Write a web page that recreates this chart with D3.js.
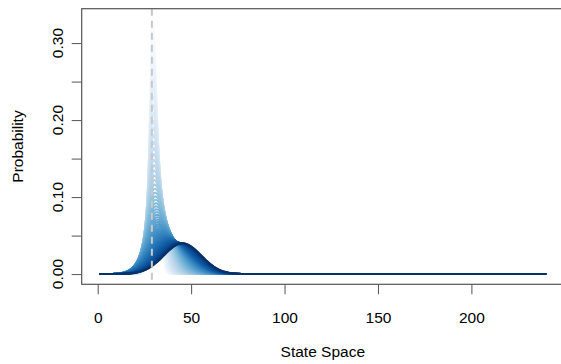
<!DOCTYPE html>
<html>
<head>
<meta charset="utf-8">
<script src="https://cdn.jsdelivr.net/npm/d3@7"></script>
<style>
  body { margin: 0; background: #fff; }
  text { font-family: 'Liberation Sans', Arial, sans-serif; fill: #000; }
</style>
</head>
<body>
<div id="chart"></div>
<script>
// state space 1..240, initial state marked by the dashed line
const stateMin = 1
const stateMax = 240
const startState = 29

// each distribution: peak location, peak height, spread left / right of the peak
// ordered from the first (lightest) to the last (darkest)
const peakState = [
  29.42, 29.44, 29.45, 29.47, 29.49, 29.51, 29.53, 29.55, 29.58, 29.61,
  29.64, 29.68, 29.72, 29.76, 29.81, 29.86, 29.92, 29.99, 30.06, 30.14,
  30.23, 30.33, 30.43, 30.55, 30.68, 30.82, 30.97, 31.14, 31.33, 31.53,
  31.75, 31.99, 32.26, 32.54, 32.85, 33.19, 33.55, 33.93, 34.35, 34.79,
  35.27, 35.77, 36.29, 36.85, 37.43, 38.02, 38.64, 39.27, 39.90, 40.54,
  41.17, 41.79, 42.39, 42.96, 43.50, 43.99, 44.44, 44.83, 45.17, 45.46
]
const peakHeight = [
  0.3314, 0.3151, 0.2995, 0.2846, 0.2707, 0.2574, 0.2447, 0.2327, 0.2213, 0.2105,
  0.2003, 0.1905, 0.1812, 0.1725, 0.1641, 0.1562, 0.1487, 0.1416, 0.1349, 0.1284,
  0.1224, 0.1166, 0.1112, 0.1060, 0.1012, 0.0966, 0.0922, 0.0881, 0.0842, 0.0805,
  0.0771, 0.0739, 0.0708, 0.0679, 0.0652, 0.0627, 0.0603, 0.0581, 0.0561, 0.0542,
  0.0524, 0.0508, 0.0493, 0.0480, 0.0468, 0.0457, 0.0447, 0.0438, 0.0431, 0.0424,
  0.0418, 0.0414, 0.0410, 0.0407, 0.0404, 0.0403, 0.0401, 0.0400, 0.0400, 0.0399
]
const leftSpread = [
  1.57, 1.65, 1.73, 1.82, 1.90, 2.00, 2.10, 2.21, 2.31, 2.43,
  2.55, 2.66, 2.80, 2.91, 3.06, 3.19, 3.35, 3.49, 3.67, 3.82,
  4.01, 4.17, 4.38, 4.55, 4.77, 4.96, 5.19, 5.39, 5.59, 5.84,
  6.05, 6.27, 6.54, 6.76, 6.97, 7.25, 7.47, 7.69, 7.89, 8.17,
  8.37, 8.56, 8.73, 8.98, 9.13, 9.26, 9.37, 9.47, 9.64, 9.69,
  9.73, 9.83, 9.83, 9.90, 9.86, 9.91, 9.94, 9.96, 9.98, 9.99
]
const rightSpread = [
  2.41, 2.53, 2.66, 2.80, 2.95, 3.10, 3.26, 3.43, 3.61, 3.79,
  3.88, 4.06, 4.25, 4.44, 4.64, 4.85, 5.07, 5.30, 5.53, 5.78,
  6.00, 6.22, 6.46, 6.70, 6.94, 7.19, 7.44, 7.70, 7.96, 8.22,
  8.49, 8.70, 8.90, 9.10, 9.30, 9.48, 9.65, 9.81, 9.96, 10.08,
  10.19, 10.28, 10.35, 10.39, 10.41, 10.39, 10.36, 10.29, 10.19, 10.16,
  10.11, 10.12, 10.12, 10.10, 10.06, 10.01, 10.04, 9.96, 9.98, 9.99
]

const xTicks = [0, 50, 100, 150, 200]
const yTicks = [0, 0.05, 0.10, 0.15, 0.20, 0.25, 0.30]
const yLabels = [0, 0.10, 0.20, 0.30]

const width = 561
const height = 364
const plot = { left: 81.7, right: 564, top: 8.7, bottom: 284.3 }

const svg = d3.select('#chart')
  .append('svg')
  .attr('width', width)
  .attr('height', height)

svg.append('rect')
  .attr('width', width)
  .attr('height', height)
  .attr('fill', '#fff')

// R style 4% padding on both axes
const xPad = (stateMax - stateMin) * 0.04
const x = d3.scaleLinear()
  .domain([stateMin - xPad, stateMax + xPad])
  .range([plot.left, plot.right])

const yMax = d3.max(peakHeight)
const y = d3.scaleLinear()
  .domain([-yMax * 0.04, yMax * 1.04])
  .range([plot.bottom, plot.top])

svg.append('clipPath')
  .attr('id', 'clip')
  .append('rect')
  .attr('x', plot.left)
  .attr('y', plot.top)
  .attr('width', plot.right - plot.left)
  .attr('height', plot.bottom - plot.top)

const states = d3.range(stateMin, stateMax + 1)

const line = d3.line()
  .x(d => x(d[0]))
  .y(d => y(d[1]))

const curves = svg.append('g').attr('clip-path', 'url(#clip)')

peakState.forEach(function (m, i) {
  const h = peakHeight[i]
  const pts = states.map(function (s) {
    const w = s < m ? leftSpread[i] : rightSpread[i]
    return [s, h * Math.exp(-0.5 * Math.pow((s - m) / w, 2))]
  })
  curves.append('path')
    .attr('d', line(pts))
    .attr('fill', 'none')
    .attr('stroke', d3.interpolateBlues(i / (peakState.length - 1)))
    .attr('stroke-width', 2)
    .attr('stroke-linejoin', 'round')
})

// dashed marker at the start state
curves.append('line')
  .attr('x1', x(startState))
  .attr('x2', x(startState))
  .attr('y1', plot.top)
  .attr('y2', plot.bottom)
  .attr('stroke', '#c8c8c8')
  .attr('stroke-width', 2)
  .attr('stroke-dasharray', '7,5')

// axes
const xAxis = svg.append('g')
  .attr('transform', 'translate(0,' + plot.bottom + ')')
  .call(d3.axisBottom(x).tickValues(xTicks).tickSize(10).tickPadding(18).tickFormat(d3.format('d')))
xAxis.select('.domain').remove()
xAxis.selectAll('line').attr('stroke', '#555')
xAxis.selectAll('text')
  .attr('dy', '0.71em')
  .style('font-size', '15.5px')
  .style('font-family', "'Liberation Sans', Arial, sans-serif")
  .attr('fill', '#000')

const yAxis = svg.append('g')
  .attr('transform', 'translate(' + plot.left + ',0)')
  .call(d3.axisLeft(y).tickValues(yTicks).tickSize(10).tickFormat(''))
yAxis.select('.domain').remove()
yAxis.selectAll('line').attr('stroke', '#555')

svg.selectAll('.ylab')
  .data(yLabels)
  .enter()
  .append('text')
  .attr('class', 'ylab')
  .attr('transform', d => 'translate(62.6,' + y(d) + ') rotate(-90)')
  .attr('text-anchor', 'middle')
  .style('font-size', '15.5px')
  .text(d => d3.format('.2f')(d))

// box
svg.append('rect')
  .attr('x', plot.left)
  .attr('y', plot.top)
  .attr('width', plot.right - plot.left)
  .attr('height', plot.bottom - plot.top)
  .attr('fill', 'none')
  .attr('stroke', '#555')
  .attr('stroke-width', 1.2)

svg.append('text')
  .attr('x', (plot.left + plot.right) / 2)
  .attr('y', 357)
  .attr('text-anchor', 'middle')
  .style('font-size', '15.5px')
  .text('State Space')

svg.append('text')
  .attr('transform', 'translate(23,' + (plot.top + plot.bottom) / 2 + ') rotate(-90)')
  .attr('text-anchor', 'middle')
  .style('font-size', '15.5px')
  .text('Probability')
</script>
</body>
</html>
